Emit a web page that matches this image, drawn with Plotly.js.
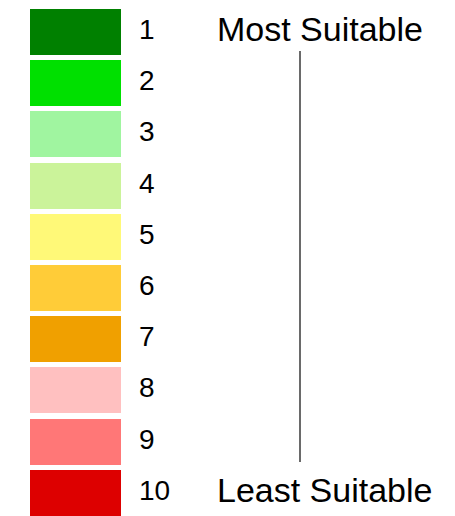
<!DOCTYPE html>
<html>
<head>
<meta charset="utf-8">
<script src="https://cdn.plot.ly/plotly-3.0.1.min.js"></script>
<style>html,body{margin:0;padding:0;background:#fff;}#chart{width:455px;height:516px;}</style>
</head>
<body>
<div id="chart"></div>
<script>
const ranks = [1, 2, 3, 4, 5, 6, 7, 8, 9, 10];
const rankLabels = ["1", "2", "3", "4", "5", "6", "7", "8", "9", "10"];
const colors = ["#008000", "#00e000", "#a0f5a0", "#cbf39a", "#fff978", "#ffcc38", "#f0a000", "#ffc0c0", "#ff7777", "#dd0000"];
const topLabel = "Most Suitable";
const bottomLabel = "Least Suitable";

const boxes = {
  type: "bar",
  orientation: "h",
  y: ranks,
  x: ranks.map(() => 91),
  base: ranks.map(() => 30),
  width: 0.898,
  marker: { color: colors, line: { width: 0 } },
  hoverinfo: "skip",
  showlegend: false
};
const labels = {
  type: "scatter",
  mode: "text",
  y: ranks,
  x: ranks.map(() => 139),
  text: rankLabels,
  textposition: "middle right",
  textfont: { family: "Liberation Sans, Arial, sans-serif", size: 28, color: "#000" },
  hoverinfo: "skip",
  showlegend: false
};

const layout = {
  width: 455, height: 516,
  margin: { l: 0, r: 0, t: 0, b: 0 },
  paper_bgcolor: "#fff", plot_bgcolor: "#fff",
  xaxis: { range: [0, 455], visible: false, fixedrange: true },
  yaxis: { range: [10.453, 0.375], visible: false, fixedrange: true },
  bargap: 0,
  annotations: [
    { xref: "paper", yref: "paper", x: 215 / 455, y: 1 - 29 / 516, xanchor: "left", yanchor: "middle",
      text: topLabel, showarrow: false, font: { family: "Liberation Sans, Arial, sans-serif", size: 34, color: "#000" } },
    { xref: "paper", yref: "paper", x: 215 / 455, y: 1 - 490 / 516, xanchor: "left", yanchor: "middle",
      text: bottomLabel, showarrow: false, font: { family: "Liberation Sans, Arial, sans-serif", size: 34, color: "#000" } }
  ],
  shapes: [
    { type: "line", xref: "paper", yref: "paper", x0: 300 / 455, x1: 300 / 455, y0: 1 - 51 / 516, y1: 1 - 462 / 516,
      line: { color: "#6a6a6a", width: 2 } }
  ]
};

Plotly.newPlot("chart", [boxes, labels], layout, { displayModeBar: false, staticPlot: true });
</script>
</body>
</html>
